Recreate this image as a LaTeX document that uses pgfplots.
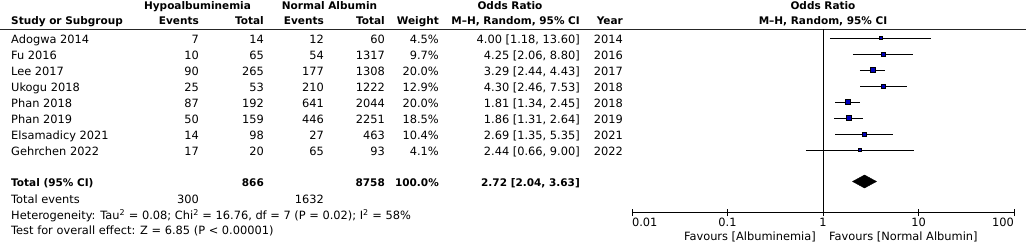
\documentclass[border=0pt]{standalone}
\usepackage{pgfplots}
\pgfplotsset{compat=1.18}
\usepackage{fontspec}
\setmainfont{DejaVu Sans}
\definecolor{sqblue}{RGB}{0,0,190}
\newcommand{\nf}{\fontsize{11.4}{13}\selectfont}
\newcommand{\bfs}{\fontsize{10.5}{13}\selectfont\bfseries}
\newcommand{\rowtext}[9]{%
  \pgfmathsetmacro{\yy}{244-(43.5+16*(#1-1))}%
  \node[anchor=base west,inner sep=0] at (11,\yy) {\nf #2};
  \node[anchor=base east,inner sep=0] at (199,\yy) {\nf #3};
  \node[anchor=base east,inner sep=0] at (264,\yy) {\nf #4};
  \node[anchor=base east,inner sep=0] at (324,\yy) {\nf #5};
  \node[anchor=base east,inner sep=0] at (385,\yy) {\nf #6};
  \node[anchor=base east,inner sep=0] at (439,\yy) {\nf #7};
  \node[anchor=base east,inner sep=0] at (580,\yy) {\nf #8};
  \node[anchor=base east,inner sep=0] at (623,\yy) {\nf #9};
}
\begin{document}
\begin{tikzpicture}[x=1pt,y=1pt]
\path[use as bounding box] (0,0) rectangle (1026,244);
% header
\node[anchor=base,inner sep=0] at (197.5,234) {\bfs Hypoalbuminemia};
\node[anchor=base,inner sep=0] at (329.5,234) {\bfs Normal Albumin};
\node[anchor=base,inner sep=0] at (510,234) {\bfs Odds Ratio};
\node[anchor=base,inner sep=0] at (823,234) {\bfs Odds Ratio};
\node[anchor=base west,inner sep=0] at (11,219) {\bfs Study or Subgroup};
\node[anchor=base east,inner sep=0] at (199,219) {\bfs Events};
\node[anchor=base east,inner sep=0] at (264,219) {\bfs Total};
\node[anchor=base east,inner sep=0] at (324,219) {\bfs Events};
\node[anchor=base east,inner sep=0] at (385,219) {\bfs Total};
\node[anchor=base east,inner sep=0] at (439,219) {\bfs Weight};
\node[anchor=base east,inner sep=0] at (580,219) {\bfs M--H, Random, 95\% CI};
\node[anchor=base east,inner sep=0] at (623,219) {\bfs Year};
\node[anchor=base,inner sep=0] at (823,219) {\bfs M--H, Random, 95\% CI};
\draw[line width=0.9pt, black!85] (0,215) -- (1026,215);
% rows
\rowtext{1}{Adogwa 2014}{7}{14}{12}{60}{4.5\%}{4.00 [1.18, 13.60]}{2014}
\rowtext{2}{Fu 2016}{10}{65}{54}{1317}{9.7\%}{4.25 [2.06, 8.80]}{2016}
\rowtext{3}{Lee 2017}{90}{265}{177}{1308}{20.0\%}{3.29 [2.44, 4.43]}{2017}
\rowtext{4}{Ukogu 2018}{25}{53}{210}{1222}{12.9\%}{4.30 [2.46, 7.53]}{2018}
\rowtext{5}{Phan 2018}{87}{192}{641}{2044}{20.0\%}{1.81 [1.34, 2.45]}{2018}
\rowtext{6}{Phan 2019}{50}{159}{446}{2251}{18.5\%}{1.86 [1.31, 2.64]}{2019}
\rowtext{7}{Elsamadicy 2021}{14}{98}{27}{463}{10.4\%}{2.69 [1.35, 5.35]}{2021}
\rowtext{8}{Gehrchen 2022}{17}{20}{65}{93}{4.1\%}{2.44 [0.66, 9.00]}{2022}
% total
\node[anchor=base west,inner sep=0] at (11,58) {\bfs Total (95\% CI)};
\node[anchor=base east,inner sep=0] at (264,58) {\bfs 866};
\node[anchor=base east,inner sep=0] at (385,58) {\bfs 8758};
\node[anchor=base east,inner sep=0] at (439,58) {\bfs 100.0\%};
\node[anchor=base east,inner sep=0] at (580,58) {\bfs 2.72 [2.04, 3.63]};
\node[anchor=base west,inner sep=0] at (11,41) {\nf Total events};
\node[anchor=base east,inner sep=0] at (199,41) {\nf 300};
\node[anchor=base east,inner sep=0] at (324,41) {\nf 1632};
\node[anchor=base west,inner sep=0] at (11,25) {\nf Heterogeneity: Tau\textsuperscript{2} = 0.08; Chi\textsuperscript{2} = 16.76, df = 7 (P = 0.02); I\textsuperscript{2} = 58\%};
\node[anchor=base west,inner sep=0] at (11,10) {\nf Test for overall effect: Z = 6.85 (P < 0.00001)};
% favours
\node[anchor=base east,inner sep=0] at (816,3.5) {\nf Favours [Albuminemia]};
\node[anchor=base west,inner sep=0] at (829,3.5) {\nf Favours [Normal Albumin]};
\begin{axis}[
  at={(632pt,31.5pt)}, anchor=south west,
  scale only axis, width=382pt, height=183.5pt,
  xmode=log, xmin=0.01, xmax=100,
  ymin=29, ymax=212.5, y dir=reverse,
  axis x line*=bottom, axis y line=none,
  axis line style={line width=0.9pt, black},
  xtick={0.01,0.1,1,10,100},
  xticklabels={\rlap{0.01},\mbox{0.1},\mbox{1},\mbox{10},\llap{100}},
  xminorticks=false,
  tick align=center, major tick length=7pt,
  tick style={line width=0.9pt, black},
  xticklabel style={font=\nf, anchor=base, yshift=-10pt},
  clip=false,
  ci/.style={black, line width=0.9pt, mark=none},
  sq/.style={only marks, mark=square*, mark options={fill=sqblue, draw=none}},
]
\addplot[black, line width=0.9pt] coordinates {(1,29) (1,212.5)};
\addplot[ci] coordinates {(1.18,38) (13.60,38)};
\addplot[sq, mark size=1.4pt] coordinates {(4.00,38)};
\addplot[ci] coordinates {(2.06,54) (8.80,54)};
\addplot[sq, mark size=1.9pt] coordinates {(4.25,54)};
\addplot[ci] coordinates {(2.44,70) (4.43,70)};
\addplot[sq, mark size=2.6pt] coordinates {(3.29,70)};
\addplot[ci] coordinates {(2.46,86) (7.53,86)};
\addplot[sq, mark size=2.1pt] coordinates {(4.30,86)};
\addplot[ci] coordinates {(1.34,102) (2.45,102)};
\addplot[sq, mark size=2.6pt] coordinates {(1.81,102)};
\addplot[ci] coordinates {(1.31,118) (2.64,118)};
\addplot[sq, mark size=2.45pt] coordinates {(1.86,118)};
\addplot[ci] coordinates {(1.35,134) (5.35,134)};
\addplot[sq, mark size=1.95pt] coordinates {(2.69,134)};
\addplot[ci] coordinates {(0.66,150) (9.00,150)};
\addplot[sq, mark size=1.35pt] coordinates {(2.44,150)};
\addplot[fill=black, draw=black] coordinates {(2.04,181.5) (2.72,175) (3.63,181.5) (2.72,188)} -- cycle;
\end{axis}
\end{tikzpicture}
\end{document}
